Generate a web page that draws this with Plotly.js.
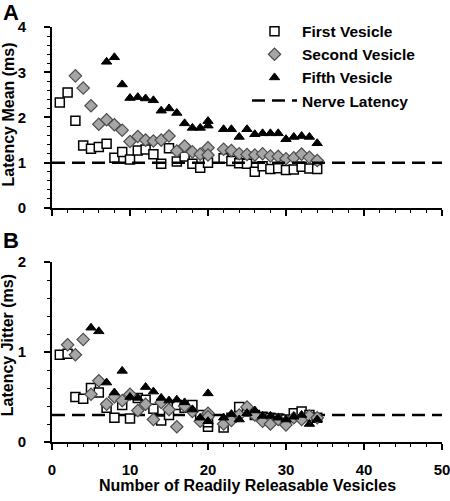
<!DOCTYPE html>
<html>
<head>
<meta charset="utf-8">
<script src="https://cdn.plot.ly/plotly-3.0.1.min.js"></script>
<style>html,body{margin:0;padding:0;background:#fff;}#chart{width:450px;height:501px;}</style>
</head>
<body>
<div id="chart"></div>
<script>
// ---------- Panel A: latency mean (ms) ----------
const xFirstA  = [1,2,3,4,5,6,7,8,9,10,11,12,13,14,15,16,17,18,19,20,22,23,24,25,26,27,28,29,30,31,32,33,34];
const yFirstA  = [2.33,2.55,1.93,1.38,1.31,1.35,1.42,1.11,1.24,1.07,1.27,1.29,1.19,0.98,1.32,1.03,1.14,0.98,0.89,1.00,1.10,1.04,0.99,0.98,0.80,0.92,0.86,0.88,0.84,0.85,0.91,0.87,0.86];
const xSecondA = [3,4,5,6,7,8,9,10,11,12,13,14,15,16,17,18,19,20,20,22,23,24,25,26,27,28,29,30,31,32,33,34];
const ySecondA = [2.92,2.65,2.26,1.85,1.95,1.84,1.72,1.47,1.58,1.50,1.48,1.50,1.59,1.26,1.37,1.24,1.19,1.33,1.17,1.30,1.27,1.20,1.18,1.17,1.20,1.15,1.14,1.09,1.11,1.19,1.12,1.05];
const xFifthA  = [7,8,9,10,11,12,13,14,15,16,17,18,19,20,20,22,23,24,25,26,27,28,29,30,31,32,33,34];
const yFifthA  = [3.23,3.33,2.73,2.43,2.45,2.42,2.38,2.15,2.20,2.10,1.87,1.77,1.77,1.92,1.82,1.74,1.74,1.57,1.74,1.63,1.65,1.65,1.65,1.52,1.57,1.59,1.57,1.43];
const nerveMean = 1.0;

// ---------- Panel B: latency jitter (ms) ----------
const xFirstB  = [1,2,3,4,5,6,7,8,9,10,11,12,13,14,15,16,17,18,19,20,20,22,23,24,25,26,27,28,29,30,31,32,33,34];
const yFirstB  = [0.97,0.98,0.50,0.48,0.60,0.55,0.38,0.27,0.41,0.26,0.49,0.47,0.37,0.24,0.30,0.41,0.38,0.41,0.30,0.17,0.22,0.16,0.27,0.39,0.34,0.30,0.28,0.27,0.26,0.25,0.32,0.34,0.30,0.27];
const xSecondB = [2,3,4,5,6,7,8,9,10,11,12,13,14,15,16,17,18,19,20,20,22,23,24,25,26,27,28,29,30,31,32,33,34];
const ySecondB = [1.08,0.97,1.14,0.53,0.68,0.42,0.50,0.46,0.53,0.35,0.42,0.25,0.44,0.36,0.17,0.40,0.34,0.23,0.32,0.28,0.20,0.24,0.30,0.39,0.30,0.23,0.20,0.25,0.19,0.27,0.25,0.29,0.27];
const xFifthB  = [5,6,7,8,9,10,11,12,13,14,15,16,17,18,19,20,20,22,23,24,25,26,27,28,29,30,31,32,33,34];
const yFifthB  = [1.27,1.23,0.66,0.55,0.79,0.50,0.49,0.61,0.56,0.49,0.46,0.47,0.44,0.36,0.27,0.54,0.23,0.27,0.31,0.25,0.32,0.35,0.29,0.29,0.27,0.25,0.28,0.30,0.20,0.25];
const nerveJitter = 0.3;

const nerveX = [0, 50];
const seriesNames = ['First Vesicle', 'Second Vesicle', 'Fifth Vesicle', 'Nerve Latency'];
const xTickVals = [0, 10, 20, 30, 40, 50];
const xTickText = ['0', '10', '20', '30', '40', '50'];

const FONT = 'Liberation Sans, Arial, Helvetica, sans-serif';
const sqStyle = {symbol: 'square', size: 9, color: '#ffffff', line: {color: '#000000', width: 1.5}};
const diStyle = {symbol: 'diamond', size: 9.5, color: '#a6a6a6', line: {color: '#4d4d4d', width: 1.2}};
const trStyle = {symbol: 'triangle-up', size: 9, color: '#000000', line: {color: '#000000', width: 1}};
const dashStyle = {color: '#000000', width: 2.5, dash: '13px,7px'};

function pts(x, y, name, marker, xa, ya, show) {
  return {type: 'scatter', mode: 'markers', x: x, y: y, name: name, marker: marker,
          xaxis: xa, yaxis: ya, showlegend: show, cliponaxis: false};
}
function nerve(val, xa, ya, show) {
  return {type: 'scatter', mode: 'lines', x: nerveX, y: nerveX.map(() => val), name: seriesNames[3],
          line: dashStyle, xaxis: xa, yaxis: ya, showlegend: show};
}

const data = [
  pts(xFirstA, yFirstA, seriesNames[0], sqStyle, 'x', 'y', true),
  pts(xSecondA, ySecondA, seriesNames[1], diStyle, 'x', 'y', true),
  pts(xFifthA, yFifthA, seriesNames[2], trStyle, 'x', 'y', true),
  nerve(nerveMean, 'x', 'y', true),
  nerve(nerveJitter, 'x2', 'y2', false),
  pts(xFirstB, yFirstB, seriesNames[0], sqStyle, 'x2', 'y2', false),
  pts(xSecondB, ySecondB, seriesNames[1], diStyle, 'x2', 'y2', false),
  pts(xFifthB, yFifthB, seriesNames[2], trStyle, 'x2', 'y2', false)
];

const tickFont = {family: FONT, size: 15, color: '#000', weight: 'bold'};
function xAxis(anchor, labels) {
  return {anchor: anchor, domain: [0, 1], range: [0, 50], tickvals: xTickVals, ticktext: xTickText,
          showticklabels: labels, ticks: 'outside', ticklen: 6, tickwidth: 2, tickcolor: '#000',
          showline: true, linecolor: '#000', linewidth: 2, showgrid: false, zeroline: false,
          tickfont: tickFont, ticklabelstandoff: 7, ticklabeloverflow: 'allow',
          minor: {dtick: 2, ticks: 'outside', ticklen: 3, tickwidth: 1, tickcolor: '#000', showgrid: false}};
}
function yAxis(anchor, domain, range) {
  return {anchor: anchor, domain: domain, range: range, dtick: 1, tick0: 0,
          ticks: 'outside', ticklen: 6, tickwidth: 2, tickcolor: '#000',
          showline: true, linecolor: '#000', linewidth: 2, showgrid: false, zeroline: false,
          tickfont: tickFont, ticksuffix: '\u2002\u2002',
          minor: {dtick: 0.2, ticks: 'outside', ticklen: 3, tickwidth: 1, tickcolor: '#000', showgrid: false}};
}

const titleFont = {family: FONT, size: 16, color: '#000', weight: 'bold'};
const layout = {
  width: 450, height: 501,
  margin: {l: 52, r: 8, t: 27, b: 59},
  paper_bgcolor: '#fff', plot_bgcolor: '#fff',
  font: {family: FONT, color: '#000'},
  xaxis: xAxis('y', false),
  yaxis: yAxis('x', [0.5639, 1], [0, 4]),
  xaxis2: xAxis('y2', true),
  yaxis2: yAxis('x2', [0, 0.4337], [0, 2]),
  legend: {x: 0.5, y: 1.03, xanchor: 'left', yanchor: 'top', bgcolor: 'rgba(0,0,0,0)',
           font: {family: FONT, size: 15.5, color: '#000', weight: 'bold'}, itemwidth: 45, traceorder: 'normal'},
  annotations: [
    {text: 'A', xref: 'paper', yref: 'paper', x: -0.13, y: 1.07, xanchor: 'left', yanchor: 'top', showarrow: false,
     font: {family: FONT, size: 22, color: '#000', weight: 'bold'}},
    {text: 'B', xref: 'paper', yref: 'paper', x: -0.13, y: 0.52, xanchor: 'left', yanchor: 'top', showarrow: false,
     font: {family: FONT, size: 22, color: '#000', weight: 'bold'}},
    {text: 'Latency Mean (ms)', xref: 'paper', yref: 'paper', x: -0.112, y: 0.79, xanchor: 'center', yanchor: 'middle',
     textangle: -90, showarrow: false, font: titleFont},
    {text: 'Latency Jitter (ms)', xref: 'paper', yref: 'paper', x: -0.112, y: 0.234, xanchor: 'center', yanchor: 'middle',
     textangle: -90, showarrow: false, font: titleFont},
    {text: 'Number of Readily Releasable Vesicles', xref: 'paper', yref: 'paper', x: 0.5, y: -0.106,
     xanchor: 'center', yanchor: 'middle', showarrow: false, font: titleFont}
  ]
};

Plotly.newPlot('chart', data, layout, {displayModeBar: false, staticPlot: true});
</script>
</body>
</html>
